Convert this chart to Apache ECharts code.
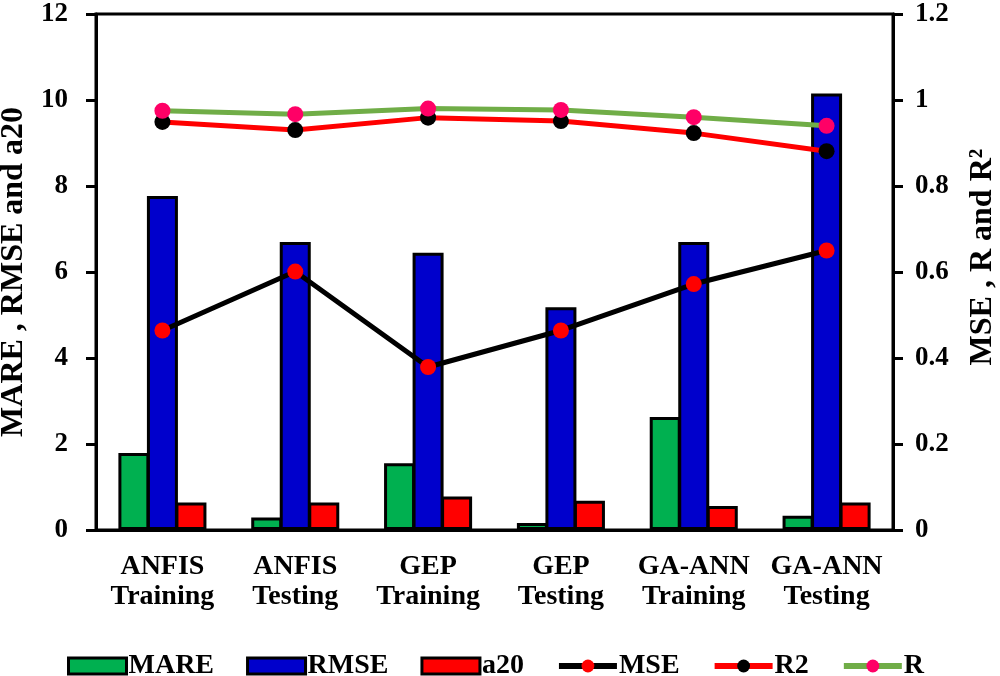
<!DOCTYPE html>
<html>
<head>
<meta charset="utf-8">
<script src="https://cdn.jsdelivr.net/npm/echarts@6/dist/echarts.min.js"></script>
<style>
  html, body { margin: 0; padding: 0; background: #fff; }
  #chart { width: 1000px; height: 676px; }
</style>
</head>
<body>
<div id="chart"></div>
<script>
// models / phases
var categories = ['ANFIS Training', 'ANFIS Testing', 'GEP Training', 'GEP Testing', 'GA-ANN Training', 'GA-ANN Testing'];

// left axis (bars)
var mare = [1.79, 0.29, 1.55, 0.16, 2.63, 0.33];
var rmse = [7.77, 6.70, 6.45, 5.18, 6.70, 10.15];
var a20 = [0.64, 0.64, 0.78, 0.68, 0.56, 0.64];

// right axis (lines)
var mse = [0.464, 0.601, 0.379, 0.464, 0.572, 0.650];
var r2 = [0.949, 0.930, 0.959, 0.951, 0.923, 0.881];
var r = [0.975, 0.967, 0.980, 0.977, 0.960, 0.940];

var leftTicks = { min: 0, max: 12, interval: 2 };
var rightTicks = { min: 0, max: 1.2, interval: 0.2 };

var font = 'Liberation Serif';

function barSeries(name, data, color) {
  return {
    name: name, type: 'bar', yAxisIndex: 0,
    data: data, barWidth: 31, barGap: '-8%',
    itemStyle: { color: color, borderColor: '#000', borderWidth: 3 }
  };
}
function lineSeries(name, data, lineColor, dotColor) {
  return {
    name: name, type: 'line', yAxisIndex: 1,
    data: data, symbol: 'circle', symbolSize: 16,
    lineStyle: { color: lineColor, width: 5 },
    itemStyle: { color: dotColor, borderWidth: 0 },
    z: 5
  };
}

var myChart = echarts.init(document.getElementById('chart'));
myChart.setOption({
  animation: false,
  textStyle: { fontFamily: font, fontWeight: 'bold', color: '#000' },
  grid: {
    left: 96, right: 107, top: 14, bottom: 146,
    outerBoundsMode: 'none', containLabel: false,
    show: true, borderColor: '#000', borderWidth: 3
  },
  legend: {
    left: 62, top: 647,
    itemWidth: 58, itemHeight: 16, itemGap: 32,
    textStyle: { fontFamily: font, fontWeight: 'bold', fontSize: 28, color: '#000', padding: [0, 0, 0, -3] },
    data: [
      { name: 'MARE', icon: 'rect', itemStyle: { borderWidth: 3, borderColor: '#000' } },
      { name: 'RMSE', icon: 'rect', itemStyle: { borderWidth: 3, borderColor: '#000' } },
      { name: 'a20', icon: 'rect', itemStyle: { borderWidth: 3, borderColor: '#000' } },
      { name: 'MSE', lineStyle: { width: 6 } },
      { name: 'R2', lineStyle: { width: 6 } },
      { name: 'R', lineStyle: { width: 6 } }
    ]
  },
  xAxis: {
    type: 'category',
    data: categories,
    axisLine: { lineStyle: { color: '#000', width: 3 } },
    axisTick: { show: false },
    axisLabel: {
      interval: 0, margin: 22, lineHeight: 30,
      fontFamily: font, fontWeight: 'bold', fontSize: 28, color: '#000',
      formatter: function (v) { return v.replace(' ', '\n'); }
    }
  },
  yAxis: [
    {
      type: 'value', min: leftTicks.min, max: leftTicks.max, interval: leftTicks.interval,
      name: 'MARE , RMSE and a20', nameLocation: 'middle', nameGap: 63,
      nameTextStyle: { fontFamily: font, fontWeight: 'bold', fontSize: 32, color: '#000' },
      axisLine: { show: true, lineStyle: { color: '#000', width: 3 } },
      axisTick: { show: true, length: 10, lineStyle: { color: '#000', width: 3 } },
      axisLabel: { margin: 28, fontFamily: font, fontWeight: 'bold', fontSize: 27, color: '#000' },
      splitLine: { show: false }
    },
    {
      type: 'value', min: rightTicks.min, max: rightTicks.max, interval: rightTicks.interval,
      name: 'MSE , R and R\u00B2', nameLocation: 'middle', nameGap: 74,
      nameTextStyle: { fontFamily: font, fontWeight: 'bold', fontSize: 32, color: '#000', padding: [0, 0, 0, 30] },
      axisLine: { show: true, lineStyle: { color: '#000', width: 3 } },
      axisTick: { show: true, length: 10, lineStyle: { color: '#000', width: 3 } },
      axisLabel: {
        margin: 22, fontFamily: font, fontWeight: 'bold', fontSize: 27, color: '#000',
        formatter: function (v) { return String(+v.toFixed(1)); }
      },
      splitLine: { show: false }
    }
  ],
  series: [
    barSeries('MARE', mare, '#00B050'),
    barSeries('RMSE', rmse, '#0000CC'),
    barSeries('a20', a20, '#FF0000'),
    lineSeries('MSE', mse, '#000000', '#FF0000'),
    lineSeries('R2', r2, '#FF0000', '#000000'),
    lineSeries('R', r, '#70AD47', '#FF0066')
  ]
});
</script>
</body>
</html>
